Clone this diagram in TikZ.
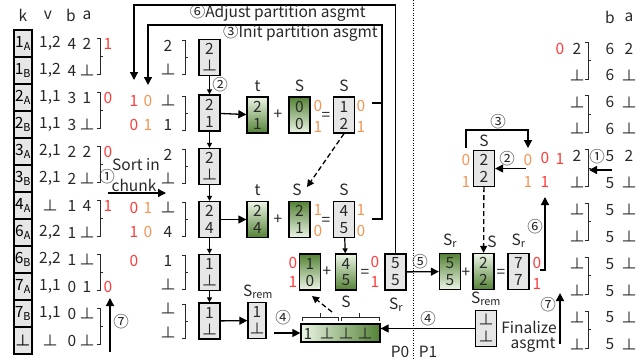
\documentclass[tikz,border=0pt]{standalone}
\usepackage{fontspec}
\setmainfont{Noto Sans CJK SC}
\usetikzlibrary{arrows.meta}
\definecolor{txt}{RGB}{40,40,40}
\definecolor{rd}{RGB}{255,60,60}
\definecolor{org}{RGB}{244,150,85}
\definecolor{gdark}{RGB}{84,130,53}
\definecolor{glight}{RGB}{236,245,230}
\definecolor{gbox}{RGB}{230,230,230}
\tikzset{
  tx/.style={text=txt,inner sep=0pt},
  rdt/.style={text=rd,inner sep=0pt},
  ort/.style={text=org,inner sep=0pt},
  boxbase/.style={draw=black,line width=1.3pt,minimum width=21pt,minimum height=36pt,inner sep=0pt},
  gbx/.style={boxbase,fill=gbox},
  gup/.style={boxbase,top color=glight,bottom color=gdark},
  gdn/.style={boxbase,top color=gdark,bottom color=glight},
  kbox/.style={draw=black,line width=1.1pt,fill=gbox,minimum width=18pt,minimum height=27pt,inner sep=0pt},
  arr/.style={line width=1.3pt,draw=black,-{Triangle[length=8pt,width=8pt]}},
  sarr/.style={line width=1.2pt,draw=black,-{Triangle[length=5pt,width=5pt]}},
  darr/.style={line width=1.3pt,draw=black,dash pattern=on 5pt off 3pt,-{Triangle[length=7pt,width=7pt]}},
  brkline/.style={line width=1pt,draw=txt},
  plain/.style={line width=1.3pt,draw=black}
}
\newcommand\tbox[6]{\node[#4] (#1) at (#2,#3) {}; \node[tx] at (#2,{#3-8.5}) {#5}; \node[tx] at (#2,{#3+8.5}) {#6};}
\newcommand\brk[3]{\draw[brkline] ({#1-3},#2) -- (#1,#2) -- (#1,#3) -- ({#1-3},#3) (#1,{(#2+#3)/2}) -- ({#1+3},{(#2+#3)/2});}
\newcommand\lrow[5]{\pgfmathsetmacro\yy{43.5+27*#1}\node[kbox] (k#1) at (23,\yy) {#2}; \node[tx] at (50,\yy) {#3}; \node[tx] at (72,\yy) {#4}; \node[tx] at (87,\yy) {#5};}
\newcommand\rrow[3]{\pgfmathsetmacro\yy{48.5+26.9*#1}\node[tx] at (610,\yy) {#2}; \node[tx] at (629,\yy) {#3};}
\begin{document}
\begin{tikzpicture}[x=1pt,y=-1pt,font=\fontsize{15.5}{18}\selectfont]
\useasboundingbox (0,0) rectangle (643,360);
\fill[white] (0,0) rectangle (643,360);
% headers
\node[tx] at (23,15) {k};
\node[tx] at (48,15) {v};
\node[tx] at (71,15) {b};
\node[tx] at (87,15) {a};
\node[tx] at (610,17) {b};
\node[tx] at (629,17) {a};
% left table
\lrow{0}{1\textsubscript{A}}{1,2}{4}{2}
\lrow{1}{1\textsubscript{B}}{1,2}{4}{⊥}
\lrow{2}{2\textsubscript{A}}{1,1}{3}{1}
\lrow{3}{2\textsubscript{B}}{1,1}{3}{⊥}
\lrow{4}{3\textsubscript{A}}{2,1}{2}{2}
\lrow{5}{3\textsubscript{B}}{2,1}{2}{⊥}
\lrow{6}{4\textsubscript{A}}{⊥}{1}{4}
\lrow{7}{6\textsubscript{A}}{2,2}{1}{⊥}
\lrow{8}{6\textsubscript{B}}{2,2}{1}{⊥}
\lrow{9}{7\textsubscript{A}}{1,1}{0}{1}
\lrow{10}{7\textsubscript{B}}{1,1}{0}{⊥}
\lrow{11}{⊥}{⊥}{0}{⊥}
\foreach \j in {0,...,5}{
  \draw[line width=1.6pt] (14,{30+54*\j}) rectangle (32,{84+54*\j});
  \brk{100}{38+54*\j}{74+54*\j}
}
\node[rdt] at (108,43.5) {1};
\node[rdt] at (108,97.5) {0};
\node[rdt] at (108,151.5) {0};
\node[rdt] at (108,205.5) {1};
\node[rdt] at (108,286.5) {0};
% sort in chunk
\node[tx] at (107,177) {①};
\node[tx] at (136,165) {Sort in};
\node[tx] at (134,185) {chunk};
\coordinate (sa) at (108,193);
\coordinate (sb) at (166,193);
\draw[arr] (sa) -- (sb);
\coordinate (l7a) at (110,352);
\coordinate (l7b) at (110,298);
\draw[arr] (l7a) -- (l7b);
\node[tx] at (121,322) {⑦};
% middle column
\tbox{m1}{209.5}{57.5}{gbx}{2}{⊥}
\tbox{m2}{209.5}{113}{gbx}{2}{1}
\tbox{m3}{209.5}{166.5}{gbx}{2}{⊥}
\tbox{m4}{209.5}{219.5}{gbx}{2}{4}
\tbox{m5}{209.5}{272.5}{gbx}{1}{⊥}
\tbox{m6}{209.5}{321}{gbx}{1}{⊥}
\draw[sarr] (m1) -- (m2);
\draw[sarr] (m2) -- (m3);
\draw[sarr] (m3) -- (m4);
\draw[sarr] (m4) -- (m5);
\draw[sarr] (m5) -- (m6);
\node[tx] at (220,85) {②};
\foreach \c/\a/\b in {57.5/2/⊥,113/⊥/1,166.5/2/⊥,219.5/⊥/4,272.5/1/⊥,321/⊥/⊥}{
  \node[tx] at (168,{\c-12}) {\a};
  \node[tx] at (168,{\c+12}) {\b};
  \brk{185}{\c-17}{\c+17}
}
\node[rdt] at (134,101) {1}; \node[ort] at (148,101) {0};
\node[rdt] at (134,125) {0}; \node[ort] at (148,125) {1};
\node[rdt] at (134,207.5) {0}; \node[ort] at (148,207.5) {1};
\node[rdt] at (134,231.5) {1}; \node[ort] at (148,231.5) {0};
\node[rdt] at (134,260.5) {0};
% row 1
\tbox{t1}{257.5}{115}{gup}{2}{1}
\tbox{s1}{299.5}{115}{gdn}{0}{0}
\tbox{q1}{344}{115}{gbx}{1}{2}
\node[tx] at (257.5,86) {t};
\node[tx] at (299.5,86) {S};
\node[tx] at (344,86) {S};
\node[tx] at (278,115) {+};
\node[tx] at (326,116) {=};
\node[ort] at (318,106) {0}; \node[ort] at (318,127) {1};
\node[ort] at (361,106) {0}; \node[ort] at (361,127) {1};
\draw[arr] (m2) -- (t1);
% row 2
\tbox{t2}{257.5}{219.5}{gup}{2}{4}
\tbox{s2}{299.5}{219.5}{gdn}{2}{1}
\tbox{q2}{344}{219.5}{gbx}{4}{5}
\node[tx] at (257.5,190) {t};
\node[tx] at (297,190) {S};
\node[tx] at (344,190) {S};
\node[tx] at (278,220) {+};
\node[tx] at (326,221) {=};
\node[ort] at (318,210) {1}; \node[ort] at (318,231) {0};
\node[ort] at (361,210) {1}; \node[ort] at (361,231) {0};
\draw[arr] (m4) -- (t2);
\coordinate (d1) at (307,187);
\draw[darr] (q1.south) -- (d1);
% row 3
\tbox{a3}{310}{272}{gdn}{1}{0}
\tbox{b3}{346}{272}{gup}{4}{5}
\tbox{r3}{395.5}{272}{gbx}{5}{5}
\node[tx] at (327,272) {+};
\node[tx] at (365,273) {=};
\node[rdt] at (293,263) {0}; \node[rdt] at (293,282) {1};
\node[rdt] at (375,262) {0}; \node[rdt] at (375,282) {1};
\node[tx] at (346,302) {S};
\node[tx] at (396,305) {S\textsubscript{r}};
\draw[sarr] (q2) -- (b3);
% bottom
\tbox{sr0}{257}{320.5}{gbx,minimum width=18pt}{1}{⊥}
\node[tx] at (258,292) {S\textsubscript{rem}};
\draw[arr] (m6) -- (sr0);
\node[boxbase,minimum width=79pt,minimum height=18pt,left color=glight,right color=gdark] (w) at (340.5,333) {};
\node[tx] at (308,333.5) {1};
\node[tx] at (327,333.5) {⊥};
\node[tx] at (346,333.5) {⊥};
\node[tx] at (365,333.5) {⊥};
\draw[brkline] (302,321) -- (302,317) -- (338,317) -- (338,321) (320,317) -- (320,313);
\draw[brkline] (341,321) -- (341,317) -- (379,317) -- (379,321) (359,317) -- (359,313);
\coordinate (d2s) at (332,312);
\coordinate (d2e) at (312,296);
\draw[darr] (d2s) -- (d2e);
\coordinate (w4) at (274,333);
\draw[arr] (w4) -- (w.west);
\node[tx] at (283,318) {④};
% top loops
\draw[arr] (r3.north) |- (134,5) -- (134,80);
\draw[plain] (372,103) -- (382,103);
\draw[plain] (372,219) -- (382,219) -- (382,103);
\draw[arr] (382,103) -- (382,25) -- (148,25) -- (148,85);
\node[tx,anchor=east] at (366,13) {⑥Adjust partition asgmt};
\node[tx,anchor=east] at (378,33) {③Init partition asgmt};
% divider
\draw[line width=1pt,dash pattern=on 1pt off 1.5pt] (413,0) -- (413,360);
\node[tx] at (400,352) {P0};
\node[tx] at (428,352) {P1};
% P1
\tbox{p1}{450}{271.5}{gdn}{5}{5}
\tbox{p2}{483.5}{271.5}{gup}{2}{2}
\tbox{p3}{518.5}{271.5}{gbx}{7}{7}
\node[tx] at (450,241) {S\textsubscript{r}};
\node[tx] at (492,242) {S};
\node[tx] at (518.5,241) {S\textsubscript{r}};
\node[tx] at (466,273) {+};
\node[tx] at (501,273) {=};
\node[rdt] at (537,263) {0}; \node[rdt] at (537,284) {1};
\draw[arr] (r3) -- (p1);
\node[tx] at (420,262) {⑤};
\tbox{pu}{484}{168.5}{gbx}{2}{2}
\node[tx] at (484,141) {S};
\draw[darr] (pu) -- (p2);
\node[ort] at (466,160) {0}; \node[ort] at (466,182) {1};
\draw[arr] (466,148) -- (466,130) -- (528,130) -- (528,148);
\node[tx] at (498,122) {③};
\node[ort] at (528,160) {0}; \node[ort] at (528,182) {1};
\node[rdt] at (545,158) {0}; \node[rdt] at (560,159) {1};
\node[rdt] at (545,182) {1};
\coordinate (p2a) at (526,168.5);
\draw[arr] (p2a) -- (pu);
\node[tx] at (507,159) {②};
\draw[arr] (540,270) -- (545,270) -- (545,197);
\node[tx] at (535,227) {⑥};
\tbox{pr}{486}{328.5}{gbx}{⊥}{⊥}
\node[tx] at (486,299) {S\textsubscript{rem}};
\draw[arr] (pr.west) -- (pr.west -| w.east);
\node[tx] at (428,319) {④};
\draw[arr] (560,344) -- (560,293);
\node[tx] at (548,305) {⑦};
\node[tx] at (529,327) {Finalize};
\node[tx] at (533,345) {asgmt};
% right table
\rrow{0}{6}{2}
\rrow{1}{6}{⊥}
\rrow{2}{6}{⊥}
\rrow{3}{6}{⊥}
\rrow{4}{5}{2}
\rrow{5}{5}{⊥}
\rrow{6}{5}{⊥}
\rrow{7}{5}{⊥}
\rrow{8}{5}{⊥}
\rrow{9}{5}{⊥}
\rrow{10}{5}{⊥}
\rrow{11}{5}{⊥}
\foreach \j/\a/\b in {0/2/⊥,1/⊥/⊥,2/2/⊥,3/⊥/⊥,4/⊥/⊥,5/⊥/⊥}{
  \node[tx] at (577,{48.5+53.8*\j}) {\a};
  \node[tx] at (577,{75.4+53.8*\j}) {\b};
  \brk{588}{42+53.8*\j}{79+53.8*\j}
}
\node[rdt] at (560,48.5) {0};
\draw[arr] (612,170) -- (589,170);
\node[tx] at (597,157) {①};
\end{tikzpicture}
\end{document}
